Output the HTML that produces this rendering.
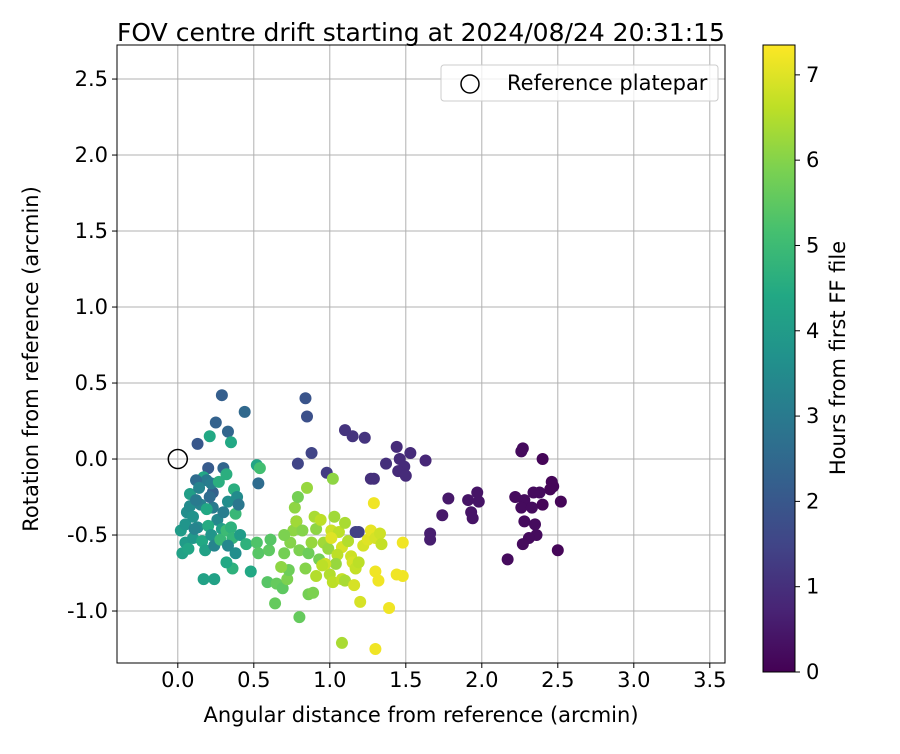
<!DOCTYPE html>
<html><head><meta charset="utf-8"><style>
body{margin:0;background:#fff;font-family:"DejaVu Sans","Liberation Sans",sans-serif;}
svg text{font-family:"DejaVu Sans","Liberation Sans",sans-serif;fill:#000;}
</style></head><body>
<svg id="chart" width="900" height="750" xmlns="http://www.w3.org/2000/svg">
<defs><linearGradient id="vir" x1="0" y1="1" x2="0" y2="0">
<stop offset="0" stop-color="#440154"/><stop offset="0.1" stop-color="#482475"/><stop offset="0.2" stop-color="#414487"/><stop offset="0.3" stop-color="#355f8d"/><stop offset="0.4" stop-color="#2a788e"/><stop offset="0.5" stop-color="#21918c"/><stop offset="0.6" stop-color="#22a884"/><stop offset="0.7" stop-color="#44bf70"/><stop offset="0.8" stop-color="#7ad151"/><stop offset="0.9" stop-color="#bddf26"/><stop offset="1" stop-color="#fde725"/>
</linearGradient></defs>
<g id="grid"></g>
<g id="pts"></g>
<rect x="117" y="45" width="608" height="618" fill="none" stroke="#000" stroke-width="1"/>
<g id="ticks"></g>
<text x="421" y="41" style="font-size:25px" text-anchor="middle">FOV centre drift starting at 2024/08/24 20:31:15</text>
<text x="421" y="722" style="font-size:21px" text-anchor="middle">Angular distance from reference (arcmin)</text>
<text transform="translate(38,359) rotate(-90)" style="font-size:21px" text-anchor="middle">Rotation from reference (arcmin)</text>
<g>
<rect x="441" y="65" width="277" height="36" rx="3" fill="#fff" fill-opacity="0.8" stroke="#ccc"/>
<circle cx="470" cy="84" r="9" fill="none" stroke="#000" stroke-width="1.5"/>
<text x="507" y="90" style="font-size:21px">Reference platepar</text>
</g>
<rect x="763" y="45" width="32" height="627" fill="url(#vir)" stroke="#000" stroke-width="1"/>
<g id="cbt"></g>
<text transform="translate(845,358) rotate(-90)" style="font-size:21px" text-anchor="middle">Hours from first FF file</text>
</svg>
<script>
const xTicks=[0,0.5,1,1.5,2,2.5,3,3.5];
const yTicks=[-1,-0.5,0,0.5,1,1.5,2,2.5];
const cTicks=[0,1,2,3,4,5,6,7];
const ptX=[2.40,2.27,2.26,2.46,2.47,2.45,2.38,2.34,2.52,2.22,2.28,2.26,2.33,2.40,2.28,2.35,2.36,2.31,2.27,2.50,2.17,1.97,1.98,1.91,1.93,1.94,1.78,1.74,1.66,1.66,
1.44,1.53,1.63,1.46,1.49,1.45,1.50,1.37,1.29,1.27,1.10,1.15,1.23,0.98,1.17,1.19,0.88,0.79,0.84,0.85,0.78,
0.29,0.44,0.25,0.33,0.13,0.20,0.53,0.30,0.23,
0.02,0.05,0.08,0.06,0.08,0.10,0.05,0.03,0.07,0.10,0.13,0.15,0.17,0.19,0.12,0.14,0.22,0.27,0.23,0.26,0.29,0.16,0.18,0.20,0.22,0.24,0.28,0.32,0.35,0.36,0.33,0.30,0.33,0.32,0.37,0.39,0.38,0.40,0.41,0.38,0.36,0.32,0.24,0.17,0.48,0.45,0.19,0.11,0.12,0.21,0.35,0.21,0.52,0.54,
0.52,0.53,0.60,0.61,0.59,0.65,0.64,0.69,0.72,0.70,0.74,0.76,0.77,0.79,0.85,0.78,0.82,0.80,0.86,0.84,0.88,0.90,0.91,0.94,0.96,0.99,0.93,0.91,0.86,0.89,0.80,0.73,0.68,0.70,1.01,1.03,1.02,1.06,1.08,1.10,1.12,1.05,1.04,1.00,1.02,1.08,1.10,1.14,1.15,1.17,1.19,1.16,1.20,1.22,1.25,1.27,1.29,1.30,1.33,1.34,1.30,1.32,1.39,1.44,1.48,1.48,1.30,1.08,0.97,0.95,1.01];
const ptY=[0.00,0.07,0.05,-0.15,-0.18,-0.20,-0.22,-0.22,-0.28,-0.25,-0.27,-0.32,-0.32,-0.30,-0.41,-0.43,-0.50,-0.52,-0.56,-0.60,-0.66,-0.22,-0.28,-0.27,-0.35,-0.39,-0.26,-0.37,-0.49,-0.53,
0.08,0.04,-0.01,0.00,-0.05,-0.08,-0.11,-0.03,-0.13,-0.13,0.19,0.15,0.14,-0.09,-0.48,-0.48,0.04,-0.03,0.40,0.28,-0.41,
0.42,0.31,0.24,0.18,0.10,-0.06,-0.16,-0.06,-0.22,
-0.47,-0.43,-0.23,-0.35,-0.31,-0.38,-0.55,-0.62,-0.59,-0.52,-0.45,-0.30,-0.12,-0.14,-0.14,-0.19,-0.16,-0.15,-0.32,-0.40,-0.46,-0.54,-0.60,-0.44,-0.50,-0.57,-0.53,-0.47,-0.45,-0.52,-0.57,-0.35,-0.28,-0.10,-0.20,-0.25,-0.36,-0.30,-0.50,-0.62,-0.72,-0.68,-0.79,-0.79,-0.74,-0.56,-0.33,-0.46,-0.27,-0.25,0.11,0.15,-0.04,-0.06,
-0.55,-0.62,-0.60,-0.53,-0.81,-0.82,-0.95,-0.85,-0.79,-0.62,-0.55,-0.47,-0.32,-0.25,-0.19,-0.41,-0.47,-0.60,-0.62,-0.72,-0.55,-0.38,-0.46,-0.40,-0.55,-0.59,-0.66,-0.77,-0.89,-0.88,-1.04,-0.73,-0.71,-0.50,-0.47,-0.38,-0.13,-0.48,-0.58,-0.42,-0.54,-0.63,-0.69,-0.76,-0.81,-0.79,-0.80,-0.64,-0.68,-0.72,-0.68,-0.83,-0.94,-0.57,-0.53,-0.47,-0.29,-0.52,-0.49,-0.56,-0.74,-0.80,-0.98,-0.76,-0.77,-0.55,-1.25,-1.21,-0.69,-0.70,-0.52];
const ptH=[0.1,0.2,0.2,0.1,0.1,0.1,0.2,0.2,0.1,0.2,0.2,0.2,0.2,0.1,0.2,0.2,0.2,0.2,0.2,0.1,0.2,0.4,0.4,0.4,0.4,0.4,0.5,0.5,0.6,0.6,
0.9,0.9,0.8,0.9,0.9,0.9,0.9,1.0,1.0,1.0,1.1,1.1,1.1,1.3,1.4,1.4,1.5,1.5,1.9,1.8,2.0,
2.2,2.5,2.3,2.4,2.0,2.1,2.6,2.4,2.3,
4.0,3.8,4.1,3.6,3.5,3.7,4.0,4.2,4.3,3.9,3.5,3.2,4.3,3.0,2.6,3.3,3.1,4.6,3.0,3.4,4.1,4.4,4.2,4.5,3.8,3.3,4.9,5.0,4.7,4.8,3.4,3.1,3.6,4.6,4.6,3.5,4.9,2.9,4.0,3.6,4.7,4.4,4.2,4.2,4.4,4.7,4.4,3.3,3.0,2.6,4.4,4.4,4.3,5.1,
5.3,5.4,5.5,5.4,5.4,5.6,5.6,5.5,5.9,5.8,6.0,6.1,6.1,5.8,6.2,6.3,6.0,5.9,5.7,6.0,6.2,6.4,6.1,6.6,6.3,6.2,5.8,6.5,5.8,5.9,5.6,5.7,6.1,5.9,6.8,6.3,6.1,6.6,6.9,6.4,6.5,6.6,6.2,6.5,6.6,6.7,6.4,6.8,6.9,6.7,6.6,6.9,6.9,6.9,7.0,7.1,7.2,6.9,6.8,6.7,7.2,7.2,7.2,7.2,7.2,7.2,7.2,6.4,6.8,6.6,7.0];
const NS="http://www.w3.org/2000/svg";
const X0=117,X1=725,Y0=45,Y1=663,xmin=-0.4,xmax=3.6,ymin=-1.342,ymax=2.724,hmax=7.35,CB0=672,CB1=45;
const sx=v=>X0+(v-xmin)/(xmax-xmin)*(X1-X0);
const sy=v=>Y1-(v-ymin)/(ymax-ymin)*(Y1-Y0);
const sc=v=>CB0-v/hmax*(CB0-CB1);
const vs=[[68,1,84],[72,36,117],[65,68,135],[53,95,141],[42,120,142],[33,145,140],[34,168,132],[68,191,112],[122,209,81],[189,223,38],[253,231,37]];
function vir(t){t=Math.max(0,Math.min(1,t))*10;const i=Math.min(9,Math.floor(t)),f=t-i,a=vs[i],b=vs[i+1];
return `rgb(${a.map((c,k)=>Math.round(c+(b[k]-c)*f)).join(',')})`;}
function mk(tag,at,parent){const e=document.createElementNS(NS,tag);for(const k in at)e.setAttribute(k,at[k]);parent.appendChild(e);return e;}
const g=document.getElementById('grid'),tk=document.getElementById('ticks'),pts=document.getElementById('pts'),cb=document.getElementById('cbt');
xTicks.forEach(v=>{const x=sx(v);
const l=mk('line',{x1:x,x2:x,y1:Y0,y2:Y1,stroke:'#b0b0b0','stroke-width':1},g);


mk('line',{x1:x,x2:x,y1:Y1,y2:Y1+5,stroke:'#000'},tk);
const t=mk('text',{x:x,y:Y1+24,style:'font-size:21px','text-anchor':'middle'},tk);t.textContent=v.toFixed(1);

});
yTicks.forEach(v=>{const y=sy(v);
const l=mk('line',{x1:X0,x2:X1,y1:y,y2:y,stroke:'#b0b0b0','stroke-width':1},g);


mk('line',{x1:X0-5,x2:X0,y1:y,y2:y,stroke:'#000'},tk);
const t=mk('text',{x:X0-9,y:y+7,style:'font-size:21px','text-anchor':'end'},tk);t.textContent=v.toFixed(1);

});
for(let i=0;i<ptX.length;i++){
const c=mk('circle',{cx:sx(ptX[i]),cy:sy(ptY[i]),r:6,fill:vir(ptH[i]/hmax)},pts);

}
const ref=mk('circle',{cx:sx(0),cy:sy(0),r:9.5,fill:'none',stroke:'#000','stroke-width':1.5},pts);


cTicks.forEach(v=>{const y=sc(v);
mk('line',{x1:795,x2:800,y1:y,y2:y,stroke:'#000'},cb);
const t=mk('text',{x:806,y:y+7,style:'font-size:21px'},cb);t.textContent=v;

});
</script>
</body></html>
